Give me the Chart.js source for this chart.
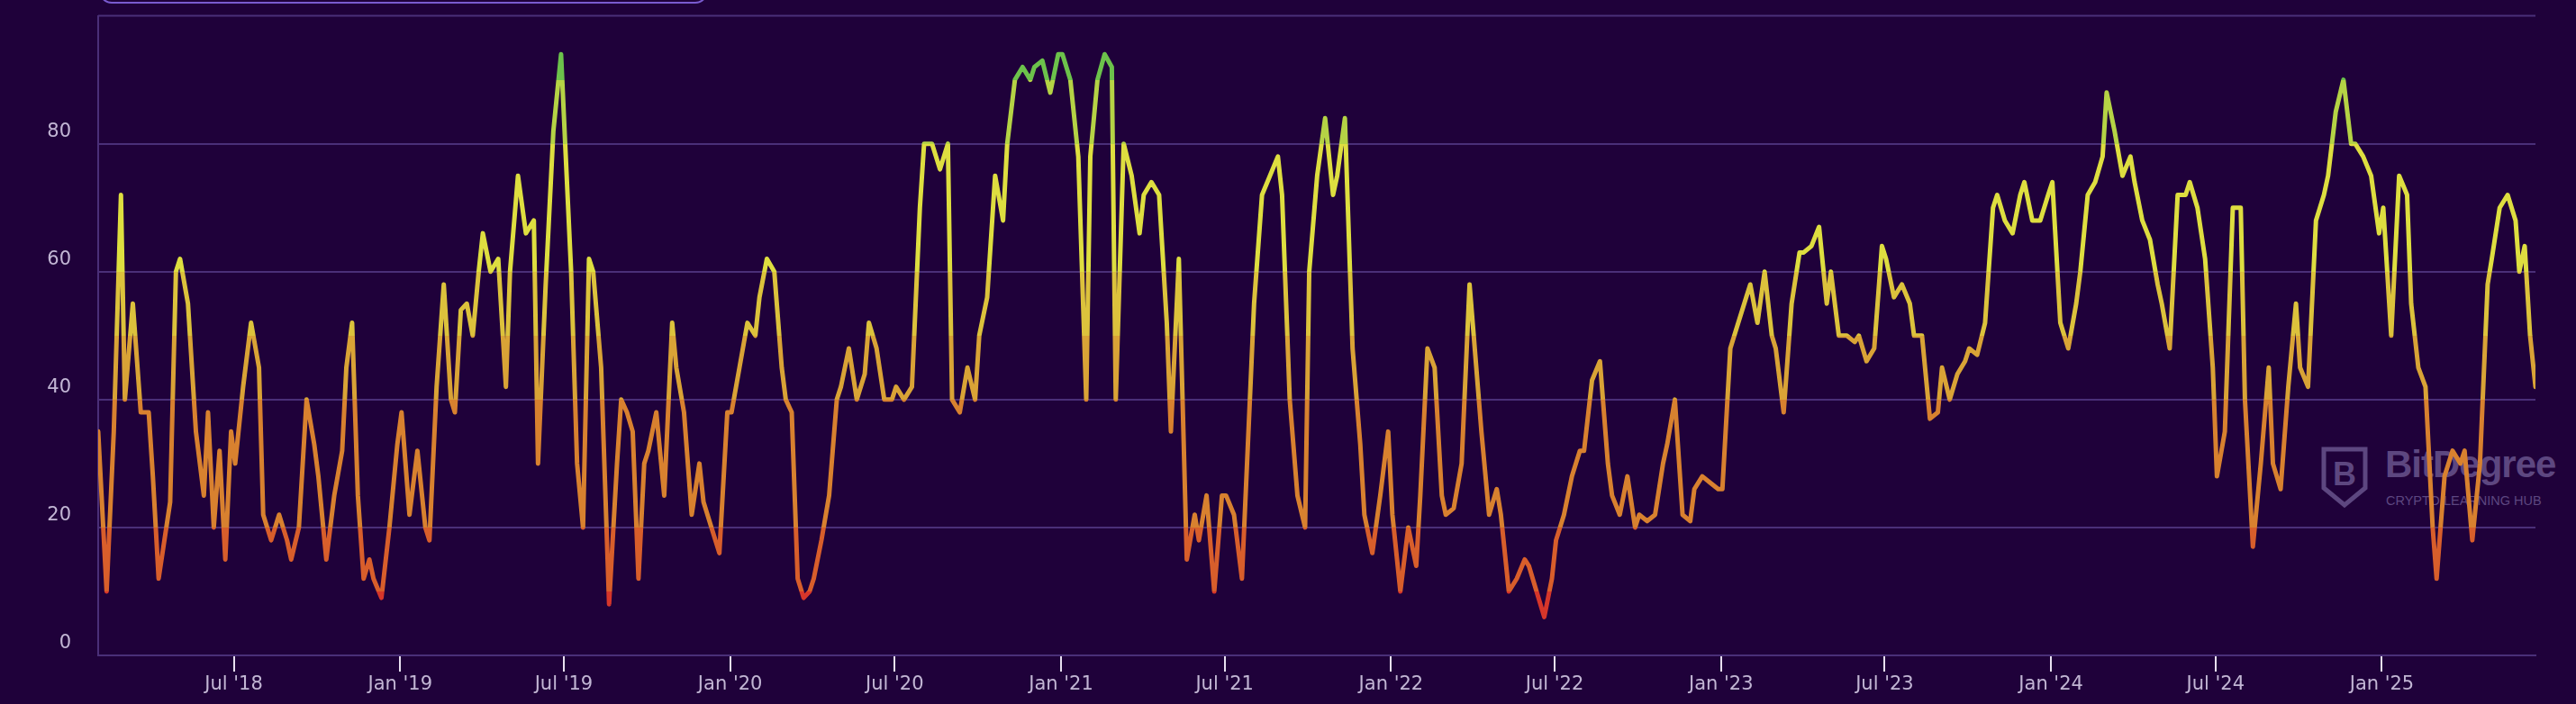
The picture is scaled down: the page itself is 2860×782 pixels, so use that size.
<!DOCTYPE html>
<html>
<head>
<meta charset="utf-8">
<script src="https://cdn.jsdelivr.net/npm/chart.js@4.4.1/dist/chart.umd.min.js"></script>
<style>
  html, body { margin: 0; padding: 0; background: #1f013a; overflow: hidden; }
  #wrap { position: relative; width: 2860px; height: 782px; overflow: hidden; }
  #tab { position: absolute; left: 110px; top: -24px; width: 672px; height: 24px;
         border: 2px solid #7a5bd0; border-radius: 14px; }
  #mark { position: absolute; left: 2577px; top: 496px; color: #5d4780;
          font-family: "Liberation Sans", Arial, sans-serif; }
  #mark svg { position: absolute; left: 0; top: 0; }
  #mark .name { position: absolute; left: 71px; top: -4px; font-size: 42px; font-weight: bold; letter-spacing: -1px; }
  #mark .sub { position: absolute; left: 72px; top: 52px; font-size: 14.5px; white-space: nowrap; }
  canvas { position: absolute; left: 0; top: -25px; }
</style>
</head>
<body>
<div id="wrap">
  <div id="tab"></div>
  <div id="mark">
    <svg width="52" height="68" viewBox="0 0 52 68">
      <path d="M3 3 H49 V46 L26 65 L3 46 Z" fill="none" stroke="#5d4780" stroke-width="5"/>
      <text x="26" y="43" text-anchor="middle" font-family="Liberation Sans" font-weight="bold" font-size="36" fill="#5d4780">B</text>
    </svg>
    <span class="name">BitDegree</span>
    <span class="sub">CRYPTO LEARNING HUB</span>
  </div>
  <canvas id="fgChart" width="2860" height="807"></canvas>
</div>
<script>
// Fear & Greed index, roughly weekly readings, grouped by month (Feb 2018 -> Jun 2025)
const startYear = 2018;
const startMonth = 1; // February
const lastMonthDays = 21; // data ends around 21 Jun 2025

const fg2018 = [
  [35, 10, 35, 72],
  [40, 55, 38, 38],
  [28, 12, 18, 24, 60],
  [62, 55, 35, 25],
  [38, 20, 32, 15, 35],
  [30, 42, 52, 45],
  [22, 18, 22, 18],
  [15, 20, 40, 33],
  [28, 15, 25, 32],
  [45, 52, 25, 12, 15],
  [12, 9, 20, 33]
];
const fg2019 = [
  [38, 22, 32, 20],
  [18, 42, 58, 40],
  [38, 54, 55, 50, 60],
  [66, 60, 62, 42],
  [60, 75, 66, 68],
  [30, 58, 82, 94],
  [80, 60, 30, 20, 62],
  [60, 45, 8, 30],
  [40, 38, 35, 12, 30],
  [32, 38, 25, 52],
  [45, 38, 22, 30],
  [24, 20, 16, 38]
];
const fg2020 = [
  [38, 45, 52, 50],
  [56, 62, 60, 45],
  [40, 38, 12, 9, 10],
  [12, 18, 25, 40],
  [42, 48, 40, 44],
  [52, 48, 40, 40],
  [42, 40, 42, 70],
  [80, 80, 76, 80],
  [40, 38, 45, 40],
  [50, 56, 75, 68],
  [80, 90, 92, 90],
  [92, 93, 88, 94]
];
const fg2021 = [
  [94, 90, 78, 40],
  [78, 90, 94, 92],
  [40, 80, 75, 66],
  [72, 74, 72, 52],
  [35, 62, 15, 22],
  [18, 25, 10, 25],
  [25, 22, 12, 40],
  [55, 72, 75, 78],
  [72, 40, 25, 20],
  [60, 75, 84, 72],
  [75, 84, 48, 33],
  [22, 16, 25, 35]
];
const fg2022 = [
  [22, 10, 20, 14],
  [25, 48, 45, 25],
  [22, 23, 30, 58],
  [50, 35, 22, 26],
  [22, 10, 12, 15],
  [14, 10, 6, 12],
  [18, 22, 28, 32],
  [32, 43, 46, 30],
  [25, 22, 28, 20],
  [22, 21, 22, 30],
  [33, 40, 22, 21],
  [26, 28, 27, 26]
];
const fg2023 = [
  [26, 48, 52, 56],
  [58, 52, 60, 50],
  [48, 38, 55, 63],
  [63, 64, 67, 55],
  [60, 50, 50, 49],
  [50, 46, 48, 64],
  [62, 56, 58, 55],
  [50, 50, 37, 38],
  [45, 40, 44, 46],
  [48, 47, 52, 70],
  [72, 68, 66, 72],
  [74, 68, 68, 72]
];
const fg2024 = [
  [74, 52, 48, 55],
  [60, 72, 74, 78],
  [88, 82, 75, 78],
  [74, 68, 65, 58],
  [55, 48, 72, 72],
  [74, 70, 62, 45],
  [28, 35, 70, 70],
  [40, 17, 30, 45],
  [30, 26, 42, 55],
  [45, 42, 68, 72],
  [75, 85, 90, 80],
  [80, 78, 75, 66]
];
const fg2025 = [
  [70, 50, 75, 72],
  [55, 45, 42, 20],
  [12, 28, 32, 30],
  [32, 18, 30, 58],
  [62, 70, 72, 68],
  [60, 64, 50, 42]
];

const years = [fg2018, fg2019, fg2020, fg2021, fg2022, fg2023, fg2024, fg2025];
const yTicks = [0, 20, 40, 60, 80];
const xTickLabels = ["Jul '18", "Jan '19", "Jul '19", "Jan '20", "Jul '20", "Jan '21", "Jul '21",
  "Jan '22", "Jul '22", "Jan '23", "Jul '23", "Jan '24", "Jul '24", "Jan '25"];

const DAY = 864e5;
const origin = Date.UTC(startYear, startMonth, 1);
const dayIndex = (y, m, d) => (Date.UTC(y, m, d) - origin) / DAY;

// spread each month's readings over that month's days
const points = [];
years.forEach((months, yi) => {
  const y = startYear + yi;
  const m0 = yi === 0 ? startMonth : 0;
  months.forEach((vals, mi) => {
    const m = m0 + mi;
    const start = dayIndex(y, m, 1);
    const isLast = yi === years.length - 1 && mi === months.length - 1;
    const len = isLast ? lastMonthDays : dayIndex(y, m + 1, 1) - start;
    vals.forEach((v, i) => {
      const frac = vals.length === 1 ? 0.5 : i / (vals.length - 1) * 0.85 + 0.05;
      points.push({ x: start + frac * len, y: v });
    });
  });
});
points[0].x = 0;
const lastX = points[points.length - 1].x;

// tick positions: 1 Jan / 1 Jul of each year
const xTickValues = xTickLabels.map(l => {
  const yr = 2000 + parseInt(l.slice(-2), 10);
  return dayIndex(yr, l.startsWith('Jul') ? 6 : 0, 1);
});

const bands = [
  [0, '#d6362a'], [10, '#d85e2b'], [20, '#d8812f'], [40, '#d9a336'],
  [50, '#dcc23c'], [60, '#dede40'], [80, '#b5d345'], [90, '#6cc24b']
];

function bandGradient(context) {
  const chart = context.chart;
  const area = chart.chartArea;
  if (!area) return '#d8812f';
  const ys = chart.scales.y;
  const y0 = ys.getPixelForValue(0), y1 = ys.getPixelForValue(100);
  const g = chart.ctx.createLinearGradient(0, y0, 0, y1);
  bands.forEach(([v, c], i) => {
    const next = i + 1 < bands.length ? bands[i + 1][0] : 100;
    g.addColorStop(v / 100, c);
    g.addColorStop(Math.max(v / 100, next / 100 - 0.0001), c);
  });
  return g;
}

const labelColor = '#c2b6d4';
const gridColor = '#4a2f78';
const font = { family: 'DejaVu Sans', size: 21 };

new Chart(document.getElementById('fgChart'), {
  type: 'line',
  data: {
    datasets: [{
      data: points,
      borderColor: bandGradient,
      borderWidth: 5,
      pointRadius: 0,
      tension: 0,
      borderJoinStyle: 'round',
      borderCapStyle: 'round'
    }]
  },
  options: {
    responsive: false,
    devicePixelRatio: 1,
    animation: false,
    layout: { padding: { top: 15, right: 45, left: 0, bottom: 0 } },
    plugins: { legend: { display: false }, tooltip: { enabled: false } },
    scales: {
      x: {
        type: 'linear',
        min: 0,
        max: lastX,
        afterBuildTicks: s => { s.ticks = xTickValues.map(v => ({ value: v })); },
        afterFit: s => { s.height = 54; },
        ticks: {
          color: labelColor, font, padding: 2, maxRotation: 0, autoSkip: false,
          callback: (v, i) => xTickLabels[i]
        },
        grid: { drawOnChartArea: false, drawTicks: true, tickLength: 18, color: '#e8e0f0', lineWidth: 2 },
        border: { color: gridColor, width: 2 }
      },
      y: {
        min: 0,
        max: 100,
        afterBuildTicks: s => { s.ticks = yTicks.map(v => ({ value: v })); },
        afterFit: s => { s.width = 109; },
        ticks: { color: labelColor, font, padding: 30, labelOffset: -13 },
        grid: { color: gridColor, lineWidth: 2, drawTicks: false },
        border: { color: gridColor, width: 2 }
      }
    }
  },
  plugins: [{
    id: 'topLine',
    afterDraw(chart) {
      const { ctx, chartArea } = chart;
      ctx.save();
      ctx.strokeStyle = gridColor;
      ctx.lineWidth = 2;
      ctx.beginPath();
      ctx.moveTo(chartArea.left, chartArea.top);
      ctx.lineTo(chartArea.right, chartArea.top);
      ctx.stroke();
      ctx.restore();
    }
  }]
});
</script>
</body>
</html>
